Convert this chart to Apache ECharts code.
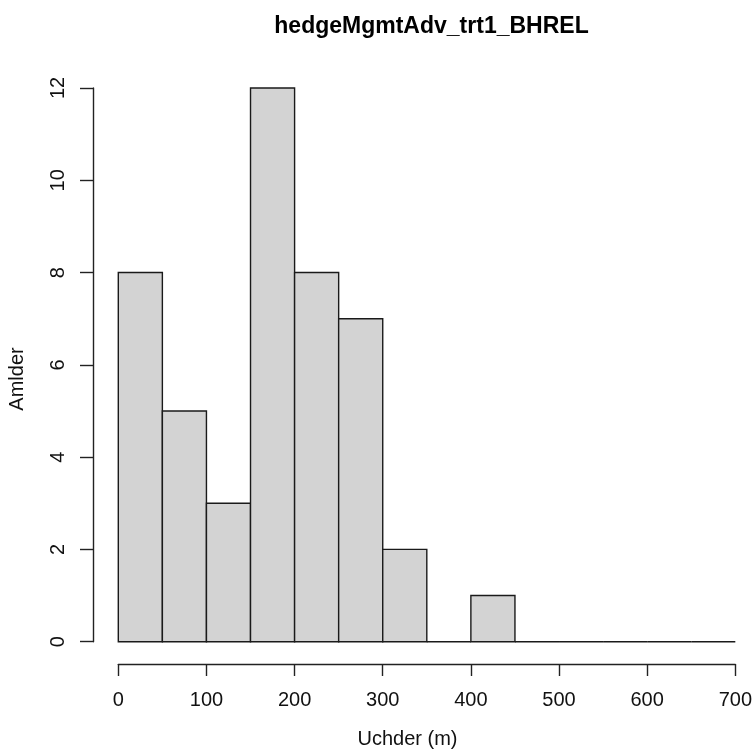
<!DOCTYPE html>
<html>
<head>
<meta charset="utf-8">
<script src="https://cdn.jsdelivr.net/npm/echarts@6/dist/echarts.min.js"></script>
<style>
html,body{margin:0;padding:0;background:#fff;}
#chart{width:755px;height:749px;}
</style>
</head>
<body>
<div id="chart"></div>
<script>
var titleText = 'hedgeMgmtAdv_trt1_BHREL';
var xTitle = 'Uchder (m)';
var yTitle = 'Amlder';
var binStarts = [0, 50, 100, 150, 200, 250, 300, 350, 400, 450, 500, 550, 600, 650];
var binEnds   = [50, 100, 150, 200, 250, 300, 350, 400, 450, 500, 550, 600, 650, 700];
var counts    = [8, 5, 3, 12, 8, 7, 2, 0, 1, 0, 0, 0, 0, 0];

var data = binStarts.map(function (s, i) { return [s, binEnds[i], counts[i]]; });

var FONT = 'Liberation Sans, Arial, sans-serif';
var LW = 1.4;
var chart = echarts.init(document.getElementById('chart'));
chart.setOption({
  animation: false,
  backgroundColor: '#fff',
  title: {
    text: titleText,
    left: 426.5,
    textAlign: 'center',
    top: 10,
    textStyle: { fontFamily: FONT, fontWeight: 'bold', fontSize: 23, color: '#000' }
  },
  grid: { left: 118.3, right: 18.3, top: 88, bottom: 107.3 },
  xAxis: {
    type: 'value', min: 0, max: 700, interval: 100,
    offset: 22.3,
    axisLine: { show: true, onZero: false, lineStyle: { color: '#222', width: LW } },
    axisTick: { show: true, length: 12, inside: false, lineStyle: { color: '#222', width: LW } },
    axisLabel: { margin: 26, fontFamily: FONT, fontSize: 20, color: '#111' },
    splitLine: { show: false }
  },
  yAxis: {
    type: 'value', min: 0, max: 12, interval: 2,
    offset: 25.3,
    axisLine: { show: true, onZero: false, lineStyle: { color: '#222', width: LW } },
    axisTick: { show: true, length: 13, inside: false, lineStyle: { color: '#222', width: LW } },
    axisLabel: { margin: 25, rotate: 90, fontFamily: FONT, fontSize: 20, color: '#111' },
    splitLine: { show: false }
  },
  graphic: [
    {
      type: 'text', x: 407.5, y: 739,
      style: { text: xTitle, font: '20px ' + FONT, fill: '#111', align: 'center', verticalAlign: 'middle' }
    },
    {
      type: 'text', x: 17, y: 379, rotation: Math.PI / 2,
      style: { text: yTitle, font: '20px ' + FONT, fill: '#111', align: 'center', verticalAlign: 'middle' }
    }
  ],
  series: [{
    type: 'custom',
    data: data,
    encode: { x: [0, 1], y: 2 },
    renderItem: function (params, api) {
      var s = api.value(0), e = api.value(1), c = api.value(2);
      var p1 = api.coord([s, c]);
      var p2 = api.coord([e, 0]);
      if (c === 0) {
        return {
          type: 'line',
          shape: { x1: p1[0], y1: p2[1], x2: p2[0], y2: p2[1] },
          style: { stroke: '#1a1a1a', lineWidth: LW }
        };
      }
      return {
        type: 'rect',
        shape: { x: p1[0], y: p1[1], width: p2[0] - p1[0], height: p2[1] - p1[1] },
        style: { fill: '#D3D3D3', stroke: '#1a1a1a', lineWidth: LW }
      };
    }
  }]
});
</script>
</body>
</html>
